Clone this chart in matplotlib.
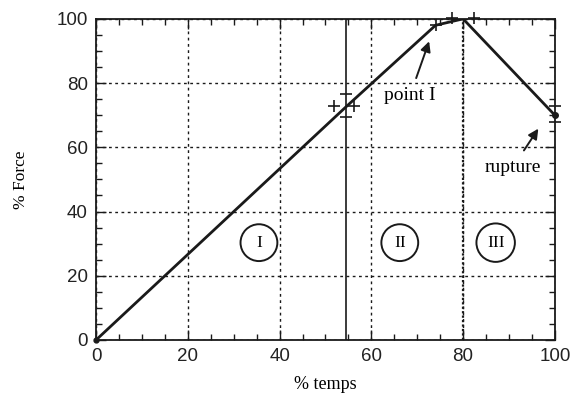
import matplotlib.pyplot as plt

# force/time curve
temps = [0, 54.4, 74, 80, 100]
force = [0, 72.5, 98, 100, 70]

# the plus-shaped scatter marks around the key points
cross_x = [51.8, 56.2, 74, 77.6, 82.4]
cross_y = [73, 73, 98, 100.3, 100.3]
bar_x = [54.4, 54.4, 100, 100]
bar_y = [76.5, 69.5, 72.8, 67.8]

zones = ["I", "II", "III"]
zone_x = [35.5, 66.2, 87.1]
zone_y = [30.3, 30.3, 30.3]

split_x = 54.4      # end of zone I (solid rule)
peak_x = 80         # end of zone II (dense dotted rule)

SERIF = "Liberation Serif"
SANS = "Liberation Sans"
INK = "#1a1a1a"

fig = plt.figure(figsize=(5.72, 3.93), dpi=100)
ax = fig.add_axes([0.168, 0.135, 0.802, 0.817])

ax.plot(temps, force, color=INK, lw=2.0, zorder=3)
ax.plot(temps[0], force[0], "o", ms=3.5, color=INK, zorder=4, clip_on=False)
ax.plot(temps[-1], force[-1], "o", ms=4, color=INK, zorder=4, clip_on=False)
ax.plot(cross_x, cross_y, "+", ms=9, mew=1.2, color=INK, ls="none",
        zorder=4, clip_on=False)
ax.plot(bar_x, bar_y, "_", ms=8, mew=1.2, color=INK, ls="none",
        zorder=4, clip_on=False)

ax.axvline(split_x, color=INK, lw=1.2, zorder=2)
ax.axvline(peak_x, color=INK, lw=1.6, ls=(0, (1, 1)), zorder=2)

ax.set_xlim(0, 100)
ax.set_ylim(0, 100)
ax.set_xticks(range(0, 101, 20))
ax.set_yticks(range(0, 101, 20))
ax.set_xticks(range(0, 101, 5), minor=True)
ax.set_yticks(range(0, 101, 5), minor=True)
ax.grid(True, which="major", color=INK, ls=(0, (2, 2.5)), lw=1.0)
ax.tick_params(which="both", direction="in", top=True, right=True,
               color=INK, width=1.0)
ax.tick_params(which="major", length=7, labelsize=13.5, pad=6)
ax.tick_params(which="minor", length=4)
for lab in ax.get_xticklabels() + ax.get_yticklabels():
    lab.set_family(SANS)
    lab.set_color("#222222")
for s in ax.spines.values():
    s.set_linewidth(1.3)
    s.set_color(INK)

ax.set_xlabel("% temps", family=SERIF, fontsize=13, labelpad=8)
ax.set_ylabel("% Force", family=SERIF, fontsize=12.5, labelpad=20)

for lab, x, y in zip(zones, zone_x, zone_y):
    ax.text(x, y, lab, family=SERIF, fontsize=12.5, ha="center", va="center",
            bbox=dict(boxstyle="circle,pad=0.6", fc="white", ec=INK, lw=1.4))

ax.annotate("point I", xy=(72.6, 93), xytext=(68.4, 76),
            family=SERIF, fontsize=14, ha="center", va="center",
            arrowprops=dict(arrowstyle="-|>", color=INK, lw=1.4,
                            shrinkA=5, shrinkB=0, mutation_scale=15))
ax.annotate("rupture", xy=(96.4, 65.8), xytext=(90.8, 53.7),
            family=SERIF, fontsize=14, ha="center", va="center",
            arrowprops=dict(arrowstyle="-|>", color=INK, lw=1.4,
                            shrinkA=5, shrinkB=0, mutation_scale=15))

fig.savefig("out.png", dpi=100)
